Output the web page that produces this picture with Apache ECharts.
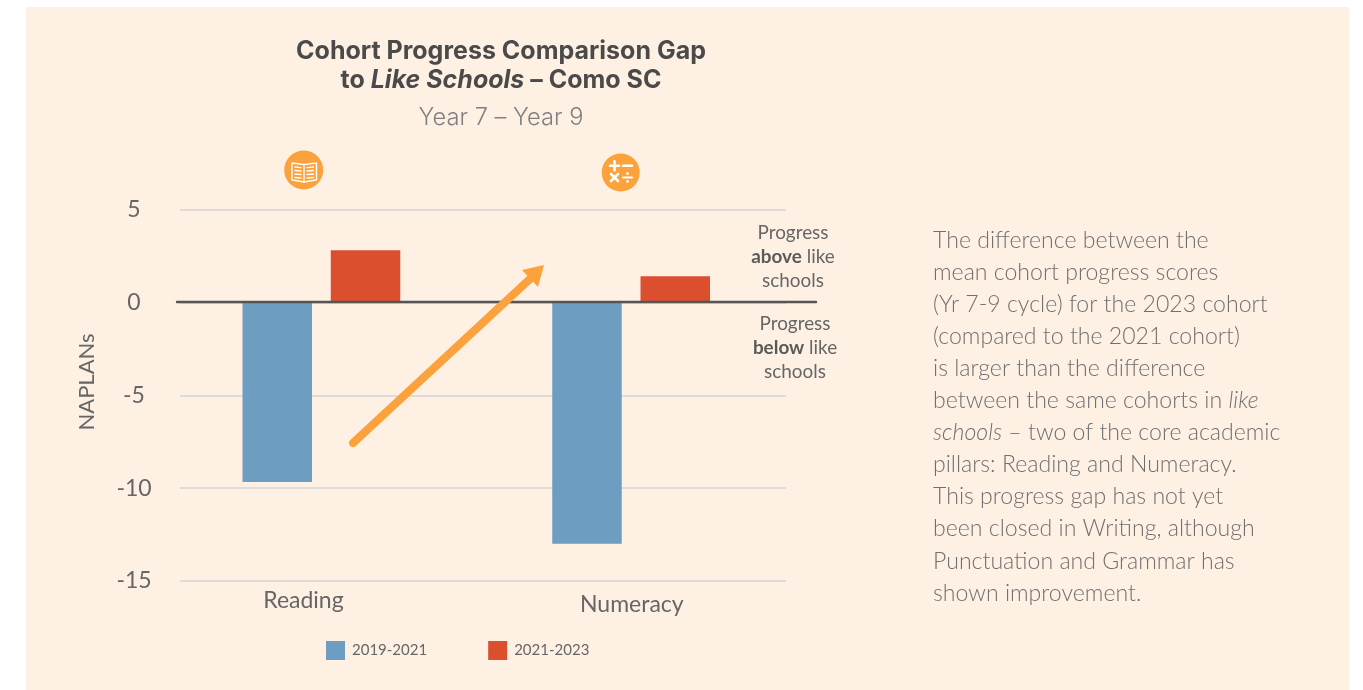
<!DOCTYPE html>
<html><head><meta charset="utf-8">
<style>html,body{margin:0;padding:0;background:#fff}#c{width:1363px;height:690px}</style>
<script src="https://cdn.jsdelivr.net/npm/echarts@6/dist/echarts.min.js"></script>
</head><body><div id="c"></div>
<script>
const categories = ['Reading', 'Numeracy'];
const series2019 = [-9.67, -13.0];
const series2021 = [2.8, 1.4];
const seriesNames = ['2019-2021', '2021-2023'];
const yTicks = {min: -15, max: 5, interval: 5};

const ORANGE = '#FBA23C', BG = '#FFF0E4', GREY = '#666666';
const chart = echarts.init(document.getElementById('c'));
const yTop = 209.5, yBottom = 690 - 581;
const ln = (x1, y1, x2, y2, w, c) => ({type: 'line', z: 20, shape: {x1, y1, x2, y2},
  style: {stroke: c || '#fff', lineWidth: w || 1.4, lineCap: 'round'}});
const hidden = {show: false};
const yAxisBase = {type: 'value', min: yTicks.min, max: yTicks.max, interval: yTicks.interval,
  axisLine: hidden, axisTick: hidden};

chart.setOption({
  animation: false,
  backgroundColor: '#fff',
  title: [
    {text: 'Cohort Progress Comparison Gap\nto {i|Like Schools} – Como SC', left: 496, top: 32, textAlign: 'center',
     textStyle: {fontFamily: 'Inter', fontWeight: 700, fontSize: 25, color: '#4A4A4A', lineHeight: 29,
       rich: {i: {fontFamily: 'Inter', fontStyle: 'italic', fontWeight: 700, fontSize: 25, color: '#4A4A4A', lineHeight: 29}}}},
    {text: 'Year 7 – Year 9', left: 496, top: 101, textAlign: 'center',
     textStyle: {fontFamily: 'Inter', fontWeight: 300, fontSize: 23.7, color: '#808080'}}
  ],
  legend: {left: 321, top: 636, itemWidth: 19, itemHeight: 19, itemGap: 61, icon: 'rect',
    data: seriesNames, textStyle: {fontFamily: 'Lato', fontSize: 15, color: GREY, padding: [5, 0, 0, 2]}},
  grid: [
    {left: 180, right: 1363 - 786, top: yTop, bottom: yBottom},   // gridlines and y labels
    {left: 166.5, right: 1363 - 786, top: yTop, bottom: yBottom}, // bars
    {left: 177, right: 1363 - 816, top: yTop - 1, bottom: yBottom + 1}, // zero line
    {left: 139.25, right: 1363 - 796, top: yTop, bottom: yBottom} // category labels
  ],
  xAxis: [
    {gridIndex: 0, type: 'category', data: categories, show: false},
    {gridIndex: 1, type: 'category', data: categories, show: false},
    {gridIndex: 2, type: 'category', data: categories, z: 10,
     axisLine: {show: true, onZero: true, lineStyle: {color: '#555555', width: 2.4}},
     axisTick: hidden, axisLabel: hidden},
    {gridIndex: 3, type: 'category', data: categories, position: 'bottom',
     axisLine: hidden, axisTick: hidden,
     axisLabel: {margin: 8, interval: 0, fontFamily: 'Lato', fontSize: 23, color: GREY,
       formatter: (v, i) => i === 0 ? `{a|${v}}` : `{b|${v}}`,
       rich: {a: {fontFamily: 'Lato', fontSize: 23, color: GREY, padding: [0, 0, 0, 0]},
              b: {fontFamily: 'Lato', fontSize: 23, color: GREY, padding: [4, 0, 0, 0]}}}}
  ],
  yAxis: [
    {...yAxisBase, gridIndex: 0,
     splitLine: {show: true, lineStyle: {color: '#DEDBD8', width: 2}},
     axisLabel: {margin: 46, align: 'center', fontFamily: 'Lato', fontSize: 23, color: GREY}},
    {...yAxisBase, gridIndex: 1, splitLine: hidden, axisLabel: hidden},
    {...yAxisBase, gridIndex: 2, splitLine: hidden, axisLabel: hidden},
    {...yAxisBase, gridIndex: 3, splitLine: hidden, axisLabel: hidden}
  ],
  series: [
    {name: seriesNames[0], type: 'bar', xAxisIndex: 1, yAxisIndex: 1, data: series2019, barWidth: 69.5, barGap: '27%', itemStyle: {color: '#6D9DC0'}},
    {name: seriesNames[1], type: 'bar', xAxisIndex: 1, yAxisIndex: 1, data: series2021, barWidth: 69.5, barGap: '27%', itemStyle: {color: '#DB4F2E'}}
  ],
  graphic: [
    {type: 'rect', z: -10, silent: true, shape: {x: 26, y: 7, width: 1323, height: 683}, style: {fill: BG}},
    {type: 'text', z: 5, x: 87, y: 382, rotation: Math.PI / 2, style: {text: 'NAPLANs', fontFamily: 'Lato', fontSize: 22, fill: GREY, align: 'center', verticalAlign: 'middle'}},
    // arrow
    ln(353, 443, 531, 278, 8, ORANGE),
    {type: 'polygon', z: 20, shape: {points: [[544, 265], [522, 270], [538, 287]]}, style: {fill: ORANGE}},
    // right-hand annotations
    {type: 'text', z: 5, x: 793, y: 221, style: {text: 'Progress\n{b|above} like\nschools', align: 'center', fontFamily: 'Lato', fontSize: 18.9, lineHeight: 24, fill: GREY,
      rich: {b: {fontFamily: 'Lato', fontWeight: 700, fontSize: 18.9, lineHeight: 24, fill: '#5A5A5A'}}}},
    {type: 'text', z: 5, x: 795, y: 312, style: {text: 'Progress\n{b|below} like\nschools', align: 'center', fontFamily: 'Lato', fontSize: 18.9, lineHeight: 24, fill: GREY,
      rich: {b: {fontFamily: 'Lato', fontWeight: 700, fontSize: 18.9, lineHeight: 24, fill: '#5A5A5A'}}}},
    // paragraph
    {type: 'text', z: 5, x: 933, y: 224, style: {
      text: 'The difference between the\nmean cohort progress scores\n(Yr 7-9 cycle) for the 2023 cohort\n(compared to the 2021 cohort)\nis larger than the difference\nbetween the same cohorts in {i|like}\n{i|schools} – two of the core academic\npillars: Reading and Numeracy.\nThis progress gap has not yet\nbeen closed in Writing, although\nPunctuation and Grammar has\nshown improvement.',
      fontFamily: 'Lato', fontWeight: 300, fontSize: 23.1, lineHeight: 32.1, fill: '#707070',
      rich: {i: {fontFamily: 'Lato', fontStyle: 'italic', fontWeight: 300, fontSize: 23.1, lineHeight: 32.1, fill: '#707070'}}}},
    // book icon
    {type: 'circle', z: 19, shape: {cx: 303.7, cy: 170, r: 19.5}, style: {fill: ORANGE}},
    {type: 'polyline', z: 20, shape: {points: [[292, 163], [304, 164.5], [316.5, 163], [316.5, 180], [304, 182], [292, 180], [292, 163]]}, style: {stroke: '#fff', lineWidth: 1.4, fill: 'none'}},
    ln(304, 164.5, 304, 182),
    ln(295, 167, 301, 167.6), ln(295, 170.5, 301, 171), ln(295, 174, 301, 174.5), ln(295, 177.5, 301, 178),
    ln(307, 167.6, 313.5, 167), ln(307, 171, 313.5, 170.5), ln(307, 174.5, 313.5, 174), ln(307, 178, 313.5, 177.5),
    // maths icon
    {type: 'circle', z: 19, shape: {cx: 620.7, cy: 172.5, r: 19}, style: {fill: ORANGE}},
    ln(610, 165.7, 619, 165.7, 2.6), ln(614.5, 161.2, 614.5, 170.2, 2.6),
    ln(623, 165.7, 632, 165.7, 2.6),
    ln(611, 174, 618, 181, 2.6), ln(618, 174, 611, 181, 2.6),
    ln(623, 177.5, 632, 177.5, 2.2),
    {type: 'circle', z: 20, shape: {cx: 627.5, cy: 173.6, r: 1.4}, style: {fill: '#fff'}},
    {type: 'circle', z: 20, shape: {cx: 627.5, cy: 181.4, r: 1.4}, style: {fill: '#fff'}}
  ]
});
</script></body></html>
